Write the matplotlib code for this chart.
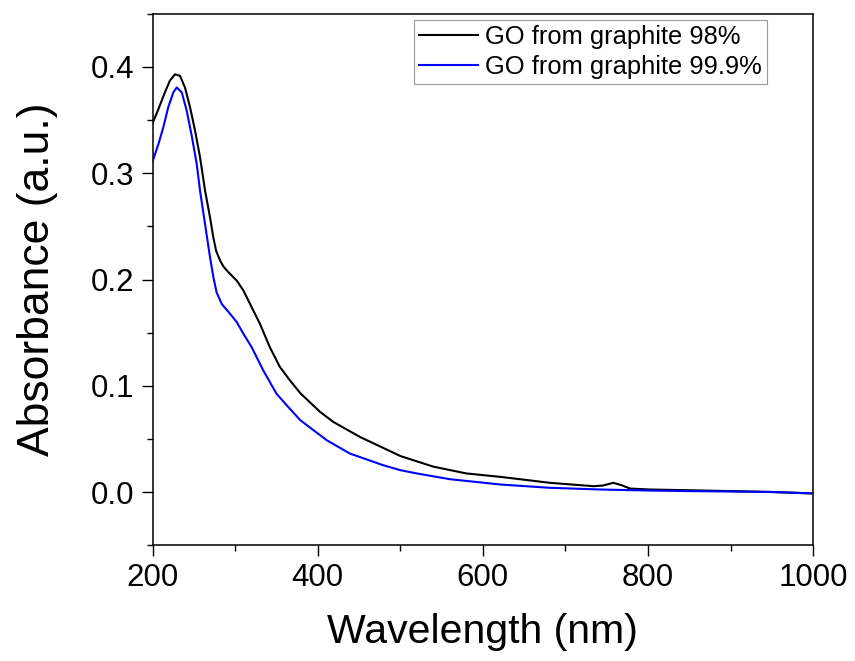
import numpy as np
import matplotlib.pyplot as plt
from matplotlib.ticker import MultipleLocator

plt.rcParams['font.family'] = ['Liberation Sans', 'DejaVu Sans']

# GO from graphite 98% (black)
wl_98 = [200, 207, 215, 221, 227.2, 233.3, 239.3, 245.4, 251.5, 257.5, 263.6, 269.6,
         273.5, 277, 281.7, 286, 291.8, 301.9, 310, 320, 330, 342, 354, 366.5, 379, 403,
         419, 451, 500, 540, 580, 621, 681, 734, 745, 758, 768, 778, 802, 850, 900, 950,
         1000]
abs_98 = [0.347, 0.360, 0.376, 0.387, 0.393, 0.3915, 0.3806, 0.362, 0.340, 0.315,
          0.2836, 0.2585, 0.240, 0.227, 0.218, 0.212, 0.2069, 0.199, 0.1897, 0.174,
          0.1584, 0.1364, 0.118, 0.105, 0.093, 0.0754, 0.066, 0.052, 0.034, 0.024,
          0.0176, 0.0144, 0.0088, 0.0056, 0.0062, 0.0088, 0.0065, 0.0034, 0.0025,
          0.0018, 0.0010, 0.0002, -0.0012]

# GO from graphite 99.9% (blue)
wl_999 = [200, 207, 213, 219, 225.2, 229.3, 235.4, 241.4, 247.5, 253.5, 257.5, 263.6,
          269.6, 273.5, 277.5, 283.8, 293.8, 301.9, 310, 320, 334, 350, 364.4, 379, 411,
          439, 479, 500, 520, 560, 621, 681, 742, 802, 850, 900, 950, 1000]
abs_999 = [0.311, 0.327, 0.343, 0.362, 0.376, 0.3806, 0.376, 0.3587, 0.335, 0.3086,
           0.2836, 0.252, 0.221, 0.203, 0.188, 0.177, 0.1678, 0.160, 0.149, 0.1364,
           0.1146, 0.0927, 0.080, 0.0676, 0.0488, 0.0363, 0.0254, 0.0207, 0.0176,
           0.0122, 0.0072, 0.0041, 0.0025, 0.0015, 0.0010, 0.0006, 0.0001, -0.0012]

labels = ['GO from graphite 98%', 'GO from graphite 99.9%']

fig = plt.figure(figsize=(8.55, 6.61), dpi=100)
ax = fig.add_axes([0.1784, 0.175, 0.7728, 0.8043])

ax.plot(wl_98, abs_98, color='black', lw=1.5, label=labels[0])
ax.plot(wl_999, abs_999, color='#0000ff', lw=1.5, label=labels[1])

ax.set_xlim(200, 1000)
ax.set_ylim(-0.05, 0.45)
ax.xaxis.set_major_locator(MultipleLocator(200))
ax.xaxis.set_minor_locator(MultipleLocator(100))
ax.yaxis.set_minor_locator(MultipleLocator(0.05))
ax.set_yticks([0.0, 0.1, 0.2, 0.3, 0.4])

ax.tick_params(which='major', direction='out', length=8, width=1, labelsize=22.5, pad=5)
ax.tick_params(which='minor', direction='out', length=4.5, width=1)
ax.tick_params(top=False, right=False)
for s in ax.spines.values():
    s.set_linewidth(1.1)

ax.set_xlabel('Wavelength (nm)', fontsize=29.5, labelpad=14)
ax.set_ylabel('Absorbance (a.u.)', fontsize=32, labelpad=24)

leg = ax.legend(loc='upper right', bbox_to_anchor=(0.9295, 0.988), borderaxespad=0,
                fontsize=18.4, frameon=True, fancybox=False, edgecolor='gray',
                handlelength=2.3, handletextpad=0.3, borderpad=0.18, labelspacing=0.25)
leg.get_frame().set_linewidth(0.8)

fig.savefig('out.png', dpi=100)
